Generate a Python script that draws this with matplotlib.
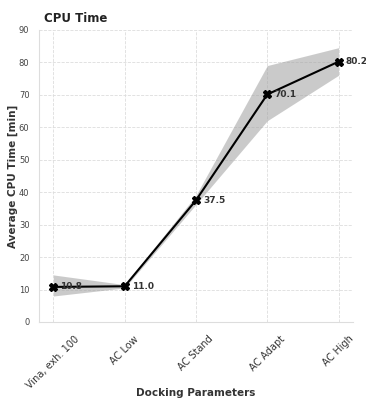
import matplotlib
matplotlib.use("Agg")
import matplotlib.pyplot as plt
import seaborn as sns

categories = ["Vina, exh. 100", "AC Low", "AC Stand", "AC Adapt", "AC High"]
mean_time = [10.8, 11.0, 37.5, 70.1, 80.2]
lower = [8.0, 10.5, 36.2, 62.0, 76.0]
upper = [14.5, 11.5, 39.0, 79.0, 84.5]

sns.set_style("whitegrid", {"grid.linestyle": "--", "axes.edgecolor": "#dddddd"})
plt.rcParams['font.family'] = ['DejaVu Sans']

fig = plt.figure(figsize=(3.66, 3.98), dpi=100)
ax = fig.add_axes([0.107, 0.191, 0.857, 0.734])

x = list(range(len(categories)))
ax.fill_between(x, lower, upper, color="#a0a0a0", alpha=0.55, linewidth=0)
ax.plot(x, mean_time, color="black", linewidth=1.5, marker="X", markersize=6)

for xi, v in zip(x, mean_time):
    ax.annotate(f"{v:.1f}", (xi, v), xytext=(5, 0), textcoords="offset points",
                fontsize=6.5, fontweight="bold", color="#333333", va="center")

ax.set_xlim(-0.2, 4.2)
ax.set_ylim(0, 90)
ax.set_xticks(x)
ax.set_xticklabels(categories, rotation=45, ha="center", fontsize=7, color="#333333")
ax.tick_params(axis="y", labelsize=6, colors="#444444")
ax.tick_params(axis="x", pad=5)
for s in ["top", "right"]:
    ax.spines[s].set_visible(False)
ax.grid(True, linestyle="--", linewidth=0.6, color="#dddddd")

ax.set_xlabel("Docking Parameters", fontsize=7.5, fontweight="bold", color="#333333")
ax.xaxis.set_label_coords(0.5, -0.226)
ax.set_ylabel("Average CPU Time [min]", fontsize=7.5, fontweight="bold", color="#333333")
ax.yaxis.set_label_coords(-0.068, 0.5)
ax.set_title("CPU Time", fontsize=8.5, fontweight="bold", loc="left", x=0.015,
             color="#222222", pad=6)

fig.savefig("out.png", dpi=100)
